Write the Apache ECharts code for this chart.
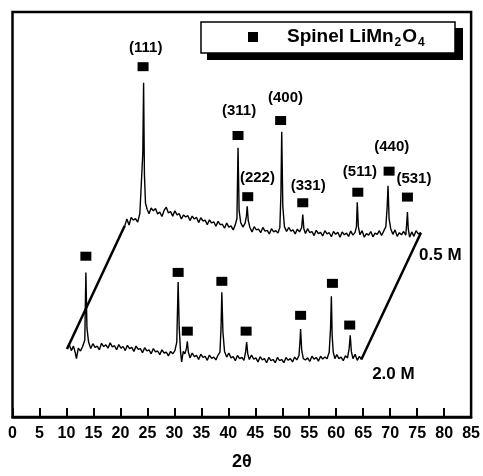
<!DOCTYPE html>
<html>
<head>
<meta charset="utf-8">
<title>Spinel LiMn2O4 XRD</title>
<script src="https://cdn.jsdelivr.net/npm/echarts/dist/echarts.min.js"></script>
<style>
  html, body { margin: 0; padding: 0; background: #fff; }
  #main { width: 483px; height: 476px; }
</style>
</head>
<body>
<div id="main"></div>
<script>
// x ticks (2θ)
const xTicks = [0, 5, 10, 15, 20, 25, 30, 35, 40, 45, 50, 55, 60, 65, 70, 75, 80, 85];

// 0.5 M pattern, drawn shifted up/right in the picture: [2θ, intensity]
const trace05 = [
  [20.8,47.2],[21.2,48.9],[21.6,47.4],[22.0,49.3],[22.4,48.6],[22.8,49.0],[23.2,48.1],[23.6,50.2],
  [23.95,50.6],[24.15,65.0],[24.3,82.5],[24.45,60.0],[24.65,52.8],[24.95,51.3],[25.3,50.2],[25.7,51.6],
  [26.1,50.9],[26.5,51.5],[26.9,50.1],[27.3,50.6],[27.7,49.5],[28.1,51.0],[28.5,51.8],[28.9,50.4],
  [29.3,50.7],[29.7,49.6],[30.1,50.9],[30.5,49.9],[30.9,50.2],[31.3,48.9],[31.7,49.9],[32.1,49.4],
  [32.5,49.7],[32.9,48.5],[33.3,49.6],[33.7,48.9],[34.1,49.3],[34.5,48.0],[34.9,49.2],[35.3,48.4],
  [35.7,48.6],[36.1,47.5],[36.5,48.7],[36.9,47.9],[37.3,48.2],[37.7,47.1],[38.1,48.3],[38.5,47.5],
  [38.9,47.6],[39.3,46.6],[39.7,47.9],[40.1,46.9],[40.5,47.2],[40.9,46.2],[41.3,47.5],[41.6,49.0],
  [41.8,66.5],[42.0,51.0],[42.3,48.0],[42.7,46.9],[43.1,47.8],[43.35,49.5],[43.5,52.0],[43.7,48.5],
  [44.0,46.8],[44.4,45.7],[44.8,47.0],[45.2,46.2],[45.6,46.4],[46.0,45.5],[46.4,46.8],[46.8,45.9],
  [47.2,46.1],[47.6,45.2],[48.0,46.5],[48.4,45.7],[48.8,46.0],[49.2,45.4],[49.55,46.8],[49.75,55.0],
  [49.9,70.4],[50.1,52.0],[50.4,47.0],[50.8,45.8],[51.2,46.8],[51.6,45.9],[52.0,46.2],[52.4,45.2],
  [52.8,46.4],[53.2,45.7],[53.6,46.8],[53.8,50.0],[54.0,46.5],[54.3,45.3],[54.7,46.5],[55.1,45.5],
  [55.5,45.8],[55.9,44.8],[56.3,46.1],[56.7,45.3],[57.1,45.6],[57.5,44.7],[57.9,46.0],[58.3,45.2],
  [58.7,45.5],[59.1,44.5],[59.5,45.8],[59.9,45.1],[60.3,45.6],[60.7,44.4],[61.1,45.7],[61.5,45.0],
  [61.9,45.4],[62.3,44.6],[62.7,45.9],[63.1,44.9],[63.5,45.6],[63.75,47.0],[63.9,53.0],[64.1,47.0],
  [64.4,45.0],[64.8,46.0],[65.2,44.4],[65.6,45.3],[66.0,44.9],[66.4,45.8],[66.8,44.5],[67.2,45.4],
  [67.6,45.1],[68.0,46.0],[68.4,44.8],[68.8,45.9],[69.2,47.0],[69.45,52.0],[69.6,57.1],[69.8,49.0],
  [70.1,46.5],[70.5,45.1],[70.9,46.2],[71.3,44.6],[71.7,45.5],[72.1,45.0],[72.5,45.8],[72.9,44.9],
  [73.05,47.5],[73.2,50.6],[73.35,46.5],[73.6,44.4],[74.0,45.7],[74.4,44.6],[74.8,46.0],[75.2,45.2],
  [75.7,45.5]
];

// 2.0 M pattern (front)
const trace20 = [
  [10.1,16.8],[10.5,18.0],[10.9,16.4],[11.3,17.5],[11.65,15.8],[11.85,14.4],[12.2,17.0],[12.6,16.3],
  [13.0,17.4],[13.4,19.0],[13.6,35.7],[13.8,22.0],[14.1,18.5],[14.5,16.9],[14.9,18.1],[15.3,17.2],
  [15.7,17.5],[16.1,16.6],[16.5,18.2],[16.9,17.4],[17.3,17.8],[17.7,17.0],[18.1,18.3],[18.5,17.3],
  [18.9,17.6],[19.3,16.6],[19.7,17.9],[20.1,17.0],[20.5,17.4],[20.9,16.4],[21.3,17.7],[21.7,16.9],
  [22.1,17.2],[22.5,16.2],[22.9,17.5],[23.3,16.7],[23.7,16.9],[24.1,15.9],[24.5,17.1],[24.9,16.3],
  [25.3,16.6],[25.7,15.6],[26.1,16.9],[26.5,16.1],[26.9,16.3],[27.3,15.4],[27.7,16.6],[28.1,15.8],
  [28.5,16.0],[28.9,15.1],[29.3,16.2],[29.7,15.6],[30.1,16.4],[30.45,18.5],[30.7,33.3],[30.9,22.0],
  [31.15,16.0],[31.35,13.6],[31.65,16.2],[31.95,15.6],[32.25,17.0],[32.4,18.7],[32.6,16.0],[32.9,14.6],
  [33.3,15.8],[33.7,14.9],[34.1,15.2],[34.5,14.2],[34.9,15.5],[35.3,14.7],[35.7,15.0],[36.1,14.0],
  [36.5,15.3],[36.9,14.5],[37.3,14.8],[37.7,14.1],[38.1,15.3],[38.45,16.0],[38.65,22.0],[38.8,30.8],
  [39.0,21.0],[39.3,16.2],[39.7,14.8],[40.1,15.8],[40.5,14.6],[40.9,14.9],[41.3,13.9],[41.7,15.2],
  [42.1,14.4],[42.5,14.7],[42.9,14.0],[43.2,16.0],[43.4,18.5],[43.6,15.6],[43.9,14.2],[44.3,15.3],
  [44.7,14.3],[45.1,14.6],[45.5,13.6],[45.9,14.9],[46.3,14.1],[46.7,14.4],[47.1,13.4],[47.5,14.7],
  [47.9,13.9],[48.3,14.2],[48.7,13.4],[49.1,14.7],[49.5,13.9],[49.9,14.2],[50.3,13.4],[50.7,14.7],
  [51.1,14.0],[51.5,14.4],[51.9,13.6],[52.3,14.8],[52.7,14.1],[53.1,15.2],[53.3,19.0],[53.4,21.7],
  [53.6,16.5],[53.9,14.4],[54.3,14.1],[54.7,14.6],[55.1,13.7],[55.5,15.0],[55.9,14.3],[56.3,14.7],
  [56.7,13.8],[57.1,15.0],[57.5,14.3],[57.9,14.8],[58.3,14.4],[58.7,16.0],[58.95,22.0],[59.1,29.8],
  [59.25,20.0],[59.45,16.0],[59.75,14.4],[60.1,15.4],[60.5,14.4],[60.9,14.8],[61.3,13.9],[61.7,15.1],
  [62.1,14.6],[62.4,17.0],[62.6,20.2],[62.8,16.2],[63.1,14.4],[63.5,15.5],[63.9,14.0],[64.3,15.0],
  [64.65,14.2]
];

// spinel reflection markers
const hkl = ['(111)', '(311)', '(222)', '(400)', '(331)', '(511)', '(440)', '(531)'];
const markX05 = [24.2, 41.8, 43.6, 49.7, 53.8, 64.0, 69.8, 73.2];
const markY05 = [86.5, 69.5, 54.4, 73.2, 52.9, 55.5, 60.7, 54.3];
const markX20 = [13.6, 30.7, 32.4, 38.8, 43.3, 53.4, 59.3, 62.5];
const markY20 = [39.7, 35.7, 21.2, 33.5, 21.2, 25.1, 33.0, 22.7];
const hklX = [24.7, 42.0, 45.4, 50.6, 54.8, 64.4, 70.3, 74.4];
const hklY = [91.1, 75.6, 59.0, 78.8, 57.0, 60.5, 66.7, 58.8];

// sample names
const sampleNames = ['0.5 M', '2.0 M'];
const sampleX = [79.3, 70.6];
const sampleY = [39.9, 10.5];

const FONT = '"Liberation Sans", Arial, Helvetica, sans-serif';

const chart = echarts.init(document.getElementById('main'));

// sides of the parallelogram join the ends of the two traces
const leftEdge = [trace20[0], trace05[0]];
const rightEdge = [trace20[trace20.length - 1], trace05[trace05.length - 1]];

const zip = (xs, ys) => xs.map((x, i) => [x, ys[i]]);

// text-only scatter (labels placed on the data scale)
const textSeries = (pts, texts, size) => ({
  type: 'scatter',
  data: pts,
  symbolSize: 1,
  itemStyle: { color: 'rgba(0,0,0,0)', opacity: 1 },
  label: {
    show: true,
    position: 'inside',
    formatter: (p) => texts[p.dataIndex],
    fontFamily: FONT,
    fontSize: size,
    fontWeight: 'bold',
    color: '#000',
    opacity: 1,
  },
  z: 5,
});

const option = {
  animation: false,
  grid: {
    left: 12.5,
    right: 10,
    top: 12,
    bottom: 58,
    show: true,
    borderColor: '#000',
    borderWidth: 2.5,
  },
  xAxis: {
    type: 'value',
    min: xTicks[0],
    max: xTicks[xTicks.length - 1],
    interval: 5,
    name: '2θ',
    nameLocation: 'middle',
    nameGap: 36,
    nameTextStyle: { fontFamily: FONT, fontSize: 18, fontWeight: 'bold', color: '#000' },
    axisLine: { show: true, lineStyle: { color: '#000', width: 2.5 } },
    axisTick: { show: true, inside: true, length: 9, lineStyle: { color: '#000', width: 2 } },
    axisLabel: {
      margin: 9,
      fontFamily: FONT,
      fontSize: 16,
      fontWeight: 'bold',
      color: '#000',
      showMinLabel: true,
      showMaxLabel: true,
    },
    splitLine: { show: false },
  },
  yAxis: {
    type: 'value',
    min: 0,
    max: 100,
    show: false,
  },
  graphic: [
    // legend box with its drop shadow
    { type: 'rect', shape: { x: 207, y: 28, width: 256, height: 32 }, style: { fill: '#000' }, z: 10 },
    { type: 'rect', shape: { x: 201, y: 22, width: 254, height: 31 }, style: { fill: '#fff', stroke: '#000', lineWidth: 1.5 }, z: 11 },
    { type: 'rect', shape: { x: 248, y: 32, width: 10, height: 10 }, style: { fill: '#000' }, z: 12 },
    {
      type: 'text',
      x: 287,
      y: 37,
      z: 12,
      style: {
        text: '{m|Spinel LiMn}{s|2}{m|O}{s|4}',
        verticalAlign: 'middle',
        rich: {
          m: { fontFamily: FONT, fontSize: 19, fontWeight: 'bold', fill: '#000', lineHeight: 24, verticalAlign: 'middle' },
          s: { fontFamily: FONT, fontSize: 12, fontWeight: 'bold', fill: '#000', lineHeight: 24, verticalAlign: 'bottom', padding: [0, 1, 0, 1] },
        },
      },
    },
  ],
  series: [
    {
      name: '0.5 M',
      type: 'line',
      data: trace05,
      showSymbol: false,
      lineStyle: { color: '#000', width: 1.4 },
      z: 3,
    },
    {
      name: '2.0 M',
      type: 'line',
      data: trace20,
      showSymbol: false,
      lineStyle: { color: '#000', width: 1.4 },
      z: 3,
    },
    {
      type: 'line',
      data: leftEdge,
      showSymbol: false,
      lineStyle: { color: '#000', width: 2.5 },
      z: 2,
    },
    {
      type: 'line',
      data: rightEdge,
      showSymbol: false,
      lineStyle: { color: '#000', width: 2.5 },
      z: 2,
    },
    {
      type: 'scatter',
      data: zip(markX05, markY05).concat(zip(markX20, markY20)),
      symbol: 'rect',
      symbolSize: [11, 9],
      itemStyle: { color: '#000', opacity: 1 },
      z: 4,
    },
    textSeries(zip(hklX, hklY), hkl, 15),
    textSeries(zip(sampleX, sampleY), sampleNames, 17),
  ],
};

chart.setOption(option);
</script>
</body>
</html>
